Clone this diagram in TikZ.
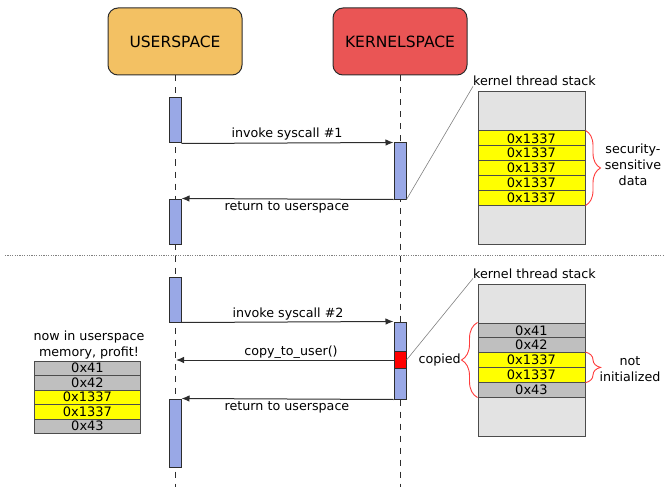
\documentclass[tikz,border=0pt]{standalone}
\usepackage{fontspec}
\setmainfont{DejaVu Sans}
\usetikzlibrary{decorations.pathreplacing,arrows.meta}

\definecolor{userfill}{RGB}{243,193,99}
\definecolor{kernfill}{RGB}{234,85,85}
\definecolor{barfill}{RGB}{153,168,230}
\definecolor{stackbg}{RGB}{227,227,227}
\definecolor{rowgray}{RGB}{191,191,191}
\definecolor{rowyellow}{RGB}{255,255,0}
\definecolor{bracered}{RGB}{255,60,60}
\definecolor{edge}{RGB}{45,45,45}

\tikzset{
  actor/.style={draw=edge, line width=1pt, rounded corners=10pt,
    minimum width=134pt, minimum height=67pt, inner sep=0,
    font=\fontsize{15.5}{18}\selectfont},
  bar/.style={draw=edge, fill=barfill, line width=1pt,
    minimum width=12pt, inner sep=0},
  stackbox/.style={draw=edge!85, fill=stackbg, line width=1pt,
    minimum width=107pt, minimum height=152pt, inner sep=0},
  cell/.style={draw=edge!85, line width=1pt, minimum width=107pt,
    minimum height=14.8pt, inner sep=0, font=\fontsize{13}{13}\selectfont},
  graycell/.style={cell, fill=rowgray},
  yellowcell/.style={cell, fill=rowyellow},
  msg/.style={draw=edge, line width=1pt, -{Latex[length=8pt,width=6.5pt]}},
  lbl/.style={font=\fontsize{12.7}{16}\selectfont, inner sep=0},
  lifeline/.style={draw=edge, line width=1pt, dash pattern=on 6pt off 6pt},
  zoomline/.style={draw=gray, line width=0.6pt},
  redbrace/.style={draw=bracered, line width=0.9pt, decorate,
    decoration={brace, amplitude=15pt}},
}

\begin{document}
\begin{tikzpicture}[x=1pt, y=-1pt]
\useasboundingbox (0,0) rectangle (665,487);

% participants
\node[actor, fill=userfill] (user) at (175,41.5) {USERSPACE};
\node[actor, fill=kernfill] (kern) at (400,41.5) {KERNELSPACE};

% lifelines
\coordinate (ubot) at (175,487);
\coordinate (kbot) at (400,487);
\draw[lifeline] (user.south) -- (ubot);
\draw[lifeline] (kern.south) -- (kbot);

% separator between the two scenarios
\coordinate (sepL) at (5,255);
\coordinate (sepR) at (665,255);
\draw[gray, line width=1pt, dash pattern=on 1.2pt off 1.2pt] (sepL) -- (sepR);

% activation bars
\node[bar, minimum height=45pt] (u1) at (175,120.5) {};
\node[bar, minimum height=56pt] (k1) at (400,171) {};
\node[bar, minimum height=45pt] (u2) at (175,221.5) {};
\node[bar, minimum height=45pt] (u3) at (175,299.5) {};
\node[bar, minimum height=77pt] (k2) at (400,360.5) {};
\node[bar, fill=red, minimum height=17pt] (leak) at (400,360) {};
\node[bar, minimum height=68pt] (u4) at (175,433) {};

% first syscall
\draw[msg] (u1.south east) -- (k1.north west);
\node[lbl, anchor=base] (m1) at (287,137.5) {invoke syscall \#1};
\draw[msg] (k1.south west) -- (u2.north east);
\node[lbl, anchor=base] (r1) at (287,210.5) {return to userspace};

% second syscall
\draw[msg] (u3.south east) -- (k2.north west);
\node[lbl, anchor=base] (m2) at (288,317.5) {invoke syscall \#2};
\coordinate (cu) at (176,360);
\draw[msg] (leak.west) -- (cu);
\node[lbl, anchor=base] (c2) at (291,355) {copy\_to\_user()};
\draw[msg] (k2.south west) -- (u4.north east);
\node[lbl, anchor=base] (r2) at (287,410) {return to userspace};

% kernel thread stack, first call
\node[stackbox] (stack1) at (531.5,168) {};
\node[lbl, anchor=base west] (kts1) at (473,86) {kernel thread stack};
\draw[zoomline] (k1.south east) -- (kts1.south west);
\node[yellowcell] (s1a) at (531.5,138.4) {0x1337};
\node[yellowcell] (s1b) at (531.5,153.2) {0x1337};
\node[yellowcell] (s1c) at (531.5,168.0) {0x1337};
\node[yellowcell] (s1d) at (531.5,182.8) {0x1337};
\node[yellowcell] (s1e) at (531.5,197.6) {0x1337};
\draw[redbrace] (s1a.north east) -- (s1e.south east);
\node[lbl, align=center] (sens) at (633,165) {security-\\sensitive\\data};

% kernel thread stack, second call
\node[stackbox] (stack2) at (531.5,360) {};
\node[lbl, anchor=base west] (kts2) at (473,278) {kernel thread stack};
\draw[zoomline] (leak.east) -- (kts2.south west);
\node[graycell] (s2a) at (531.5,330.4) {0x41};
\node[graycell] (s2b) at (531.5,345.2) {0x42};
\node[yellowcell] (s2c) at (531.5,360.0) {0x1337};
\node[yellowcell] (s2d) at (531.5,374.8) {0x1337};
\node[graycell] (s2e) at (531.5,389.6) {0x43};
\draw[redbrace, decoration={brace, amplitude=16pt}] (s2e.south west) -- (s2a.north west);
\node[lbl, anchor=base east] (copied) at (461,363) {copied};
\draw[redbrace] (s2c.north east) -- (s2d.south east);
\node[lbl, align=center] (uninit) at (630,369) {not\\initialized};

% leaked copy in userspace
\node[lbl, align=center] (note) at (89,345) {now in userspace\\memory, profit!};
\node[graycell, minimum width=106pt, minimum height=14.5pt] (m_a) at (87.5,368.25) {0x41};
\node[graycell, minimum width=106pt, minimum height=14.5pt] (m_b) at (87.5,382.75) {0x42};
\node[yellowcell, minimum width=106pt, minimum height=14.5pt] (m_c) at (87.5,397.25) {0x1337};
\node[yellowcell, minimum width=106pt, minimum height=14.5pt] (m_d) at (87.5,411.75) {0x1337};
\node[graycell, minimum width=106pt, minimum height=14.5pt] (m_e) at (87.5,426.25) {0x43};
\end{tikzpicture}
\end{document}
